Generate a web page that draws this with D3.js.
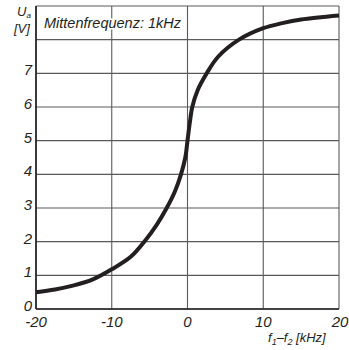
<!DOCTYPE html>
<html>
<head>
<meta charset="utf-8">
<script src="https://cdn.jsdelivr.net/npm/d3@7"></script>
<style>
  body { margin: 0; background: #fff; }
  text { font-family: "Liberation Sans Narrow", "Liberation Sans", Arial, sans-serif; font-style: italic; fill: #231f20; }
</style>
</head>
<body>
<div id="chart"></div>
<script>
// Werte
const freqDiff = [-20, -17.5, -15, -12.5, -10, -7.5, -5.6, -4.07, -2.75, -1.65, -0.86, -0.29, 0, 0.29, 0.63, 1.34, 2.53, 4.07, 6.8, 10, 12.5, 15, 20];
const voltage  = [0.5, 0.58, 0.7, 0.88, 1.18, 1.55, 2.03, 2.5, 3.0, 3.5, 4.0, 4.5, 5.0, 5.51, 6.0, 6.5, 7.0, 7.5, 8.0, 8.34, 8.49, 8.6, 8.72];
const xTicks = [-20, -10, 0, 10, 20];
const yTicks = [0, 1, 2, 3, 4, 5, 6, 7, 8, 9];
const yTickLabels = ["0", "1", "2", "3", "4", "5", "6", "7", "", ""];
const titleText = "Mittenfrequenz: 1kHz";

const width = 349, height = 350;
const margin = { top: 6, right: 10, bottom: 41, left: 36 };

const svg = d3.select("#chart").append("svg")
    .attr("width", width)
    .attr("height", height);

const x = d3.scaleLinear().domain([-20, 20]).range([margin.left, width - margin.right]);
const y = d3.scaleLinear().domain([0, 9]).range([height - margin.bottom, margin.top]);

// Gitter
svg.append("g").selectAll("line")
    .data(yTicks)
    .enter().append("line")
    .attr("x1", x(-20)).attr("x2", x(20))
    .attr("y1", d => y(d)).attr("y2", d => y(d))
    .attr("stroke", "#5a5a5a").attr("stroke-width", 1.1);

svg.append("g").selectAll("line")
    .data(xTicks)
    .enter().append("line")
    .attr("x1", d => x(d)).attr("x2", d => x(d))
    .attr("y1", y(0)).attr("y2", y(9))
    .attr("stroke", "#5a5a5a").attr("stroke-width", 1.1);

// Achsen (links, unten) schwarz
svg.append("line")
    .attr("x1", x(-20)).attr("x2", x(-20)).attr("y1", y(0)).attr("y2", y(9))
    .attr("stroke", "#231f20").attr("stroke-width", 1.6);
svg.append("line")
    .attr("x1", x(-20)).attr("x2", x(20)).attr("y1", y(0)).attr("y2", y(0))
    .attr("stroke", "#231f20").attr("stroke-width", 1.6);

// Titel im Diagramm
svg.append("text")
    .attr("x", 44).attr("y", 28)
    .style("font-size", "14.5px")
    .style("paint-order", "stroke")
    .style("stroke", "#fff").style("stroke-width", 3)
    .text(titleText);

// Kurve
const pts = freqDiff.map((f, i) => [f, voltage[i]]);
svg.append("path")
    .datum(pts)
    .attr("fill", "none")
    .attr("stroke", "#231f20")
    .attr("stroke-width", 4)
    .attr("d", d3.line().x(d => x(d[0])).y(d => y(d[1])).curve(d3.curveCatmullRom.alpha(0.5)));

// y-Beschriftung
svg.append("g").selectAll("text")
    .data(yTicks)
    .enter().append("text")
    .attr("x", 32)
    .attr("y", d => y(d) + 2)
    .attr("text-anchor", "end")
    .style("font-size", "15px")
    .text((d, i) => yTickLabels[i]);

// x-Beschriftung
svg.append("g").selectAll("text")
    .data(xTicks)
    .enter().append("text")
    .attr("x", d => x(d) + (d === 20 ? 1 : 0))
    .attr("y", 327)
    .attr("text-anchor", "middle")
    .style("font-size", "15px")
    .text(d => d);

// Achsentitel
const yl = svg.append("text").attr("x", 17).attr("y", 16).style("font-size", "13px");
yl.append("tspan").text("U");
yl.append("tspan").attr("dy", 2).style("font-size", "8px").text("a");
svg.append("text").attr("x", 14).attr("y", 33).style("font-size", "13px").text("[V]");

const xl = svg.append("text").attr("x", 268).attr("y", 342).style("font-size", "13px");
xl.append("tspan").text("f");
xl.append("tspan").attr("dy", 3).style("font-size", "9px").text("1");
xl.append("tspan").attr("dy", -3).text("–f");
xl.append("tspan").attr("dy", 3).style("font-size", "9px").text("2");
xl.append("tspan").attr("dy", -3).text(" [kHz]");
</script>
</body>
</html>
